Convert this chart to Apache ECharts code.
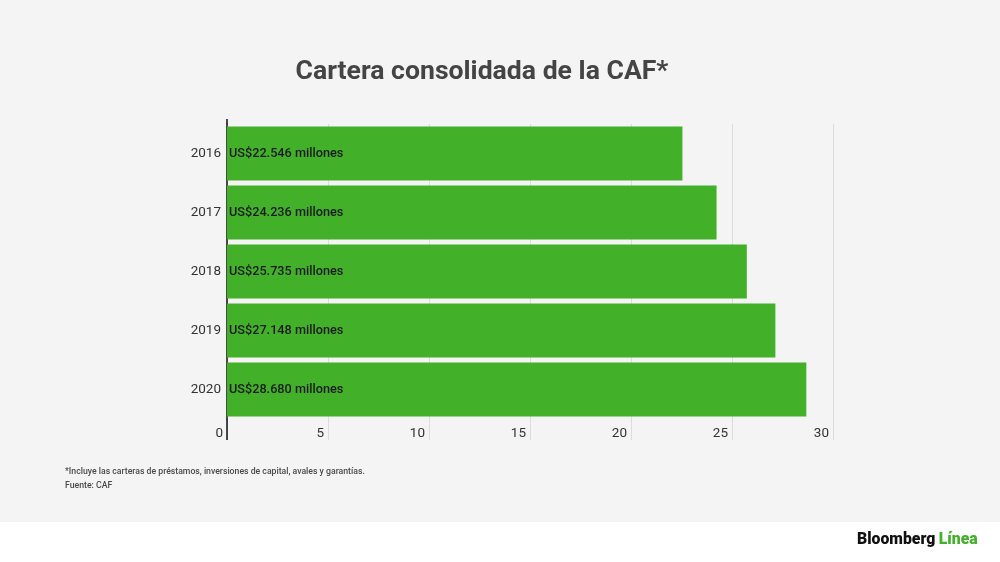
<!DOCTYPE html>
<html>
<head>
<meta charset="utf-8">
<script src="https://cdn.jsdelivr.net/npm/echarts@6/dist/echarts.min.js"></script>
<style>
  html, body { margin: 0; padding: 0; width: 1000px; height: 562px; background: #f4f4f4; overflow: hidden; }
  #chart { width: 1000px; height: 562px; }
</style>
</head>
<body>
<div id="chart"></div>
<script>
const categories = ['2016', '2017', '2018', '2019', '2020'];
const values = [22.546, 24.236, 25.735, 27.148, 28.680];
const barLabels = ['US$22.546 millones', 'US$24.236 millones', 'US$25.735 millones', 'US$27.148 millones', 'US$28.680 millones'];
const xTicks = [0, 5, 10, 15, 20, 25, 30];

const chart = echarts.init(document.getElementById('chart'), null, { renderer: 'canvas' });
chart.setOption({
  backgroundColor: '#f4f4f4',
  animation: false,
  title: {
    text: 'Cartera consolidada de la CAF*',
    left: 477, top: 54, textAlign: 'center',
    textStyle: { fontFamily: 'Roboto', fontWeight: 'bold', fontSize: 26.6, color: '#444444' }
  },
  grid: { left: 227, right: 167, top: 124, bottom: 143, containLabel: false },
  xAxis: {
    type: 'value', min: 0, max: 30, interval: 5,
    axisLine: { show: false },
    axisTick: { show: true, inside: false, length: 21, lineStyle: { color: '#dcdcdc', width: 1 } },
    splitLine: { show: true, lineStyle: { color: '#dcdcdc', width: 1 } },
    axisLabel: {
      margin: 8, align: 'right', padding: [0, 4, 0, 0],
      fontFamily: 'Roboto', fontSize: 13.5, color: '#333333',
      formatter: function (v) { return xTicks.indexOf(v) >= 0 ? String(v) : ''; }
    }
  },
  yAxis: {
    type: 'category', data: categories, inverse: true,
    axisLine: { show: true, lineStyle: { color: '#111111', width: 1.5 } },
    axisTick: { show: false },
    axisLabel: { margin: 6, fontFamily: 'Roboto', fontSize: 13.5, color: '#333333' }
  },
  series: [{
    type: 'bar',
    data: values,
    barWidth: 54,
    itemStyle: { color: '#43b02a' },
    label: {
      show: true, position: 'insideLeft', distance: 2,
      fontFamily: 'Roboto', fontWeight: 500, fontSize: 12.7, color: '#1a1a1a',
      formatter: function (p) { return barLabels[p.dataIndex]; }
    }
  }],
  graphic: [
    { type: 'line', shape: { x1: 227, y1: 119, x2: 227, y2: 124 }, style: { stroke: '#111111', lineWidth: 1.5 } },
    { type: 'line', shape: { x1: 227, y1: 419, x2: 227, y2: 440 }, style: { stroke: '#111111', lineWidth: 1.5 }, z: 100 },
    { type: 'rect', shape: { x: 0, y: 522, width: 1000, height: 40 }, style: { fill: '#ffffff' } },
    { type: 'text', left: 65, top: 467, style: { text: '*Incluye las carteras de préstamos, inversiones de capital, avales y garantías.', font: '500 8.7px Roboto', fill: '#4a4a4a' } },
    { type: 'text', left: 65, top: 481, style: { text: 'Fuente: CAF', font: '500 8.7px Roboto', fill: '#4a4a4a' } },
    { type: 'text', left: 857, top: 532, style: {
      text: '{a|Bloomberg} {b|Línea}',
      rich: {
        a: { fontFamily: 'Roboto', fontWeight: 900, fontSize: 15.8, fill: '#111111', color: '#111111' },
        b: { fontFamily: 'Roboto', fontWeight: 900, fontSize: 15.8, fill: '#43b02a', color: '#43b02a' }
      }
    } }
  ]
});
</script>
</body>
</html>
